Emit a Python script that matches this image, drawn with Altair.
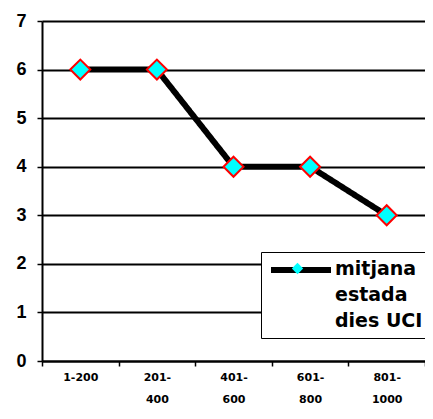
import altair as alt
import pandas as pd

categories = ["1-200", "201-400", "401-600", "601-800", "801-1000"]
values = [6, 6, 4, 4, 3]
series_name = "mitjana estada dies UCI"
y_ticks = [0, 1, 2, 3, 4, 5, 6, 7]

df = pd.DataFrame({
    "rang": categories,
    "dies": values,
    "serie": [series_name] * len(categories),
    "serie_linia": [series_name] * len(categories),
    "serie_punt": [series_name] * len(categories),
})

x_lab = ("isValid(datum.value) ? (datum.value == '1-200' ? datum.value : "
         "[split(datum.value, '-')[0] + '-', split(datum.value, '-')[1]]) : ''")
leg_lab = "[slice(datum.label, 0, 7), slice(datum.label, 8, 14), slice(datum.label, 15)]"

x = alt.X("rang:N", sort=categories,
          scale=alt.Scale(type="band", paddingInner=0, paddingOuter=0),
          axis=alt.Axis(title=None, labelAngle=0, labelExpr=x_lab, tickBand="extent",
                        labelFont="DejaVu Sans", labelFontSize=11, labelFontWeight="bold",
                        labelColor="black", labelPadding=5, labelLineHeight=22,
                        tickSize=5, tickWidth=1.5,
                        tickColor="black", domainColor="black", domainWidth=2,
                        labelBaseline="top", grid=False))
y = alt.Y("dies:Q", scale=alt.Scale(domain=[0, 7], nice=False, zero=True),
          axis=alt.Axis(title=None, values=y_ticks, labelFont="Liberation Sans",
                        labelFontSize=18, labelFontWeight="bold", labelColor="black",
                        labelPadding=11, tickSize=5, tickWidth=1.5, tickColor="black",
                        domainColor="black", domainWidth=2, grid=True,
                        gridColor="black", gridWidth=2, gridOpacity=1))

line = alt.Chart(df).mark_line(strokeWidth=6).encode(
    x=x, y=y,
    color=alt.Color("serie:N", scale=alt.Scale(range=["black"]),
                    legend=alt.Legend(orient="none", legendX=219, legendY=231, title=None,
                                      strokeColor="black", fillColor="white", padding=7,
                                      symbolType="circle", symbolSize=1,
                                      symbolOpacity=0,
                                      labelFont="DejaVu Sans", labelFontSize=19,
                                      labelFontWeight="bold", labelColor="black",
                                      labelLimit=400, labelExpr=leg_lab,
                                      labelBaseline="middle", labelOffset=48, zindex=1)),
    strokeDash=alt.StrokeDash("serie_linia:N", scale=alt.Scale(range=[[1, 0]]),
                              legend=alt.Legend(orient="none", legendX=226, legendY=216,
                                                title=None, padding=0, symbolType="stroke",
                                                symbolSize=3600, symbolStrokeWidth=6,
                                                symbolStrokeColor="black",
                                                symbolDash=[1, 0], labelExpr="''",
                                                zindex=2)),
)

points = alt.Chart(df).mark_point(filled=True, fill="#00FFFF", stroke="red",
                                  strokeWidth=2, size=400, opacity=1).encode(
    x=x, y=y,
    shape=alt.Shape("serie_punt:N", scale=alt.Scale(range=["diamond"]),
                    legend=alt.Legend(orient="none", legendX=249, legendY=241, title=None,
                                      padding=0, symbolType="diamond", symbolSize=130,
                                      symbolFillColor="#00FFFF", symbolStrokeColor="red",
                                      symbolStrokeWidth=1.5, labelExpr="''", zindex=3)),
)

chart = (line + points).properties(
    width=383, height=340,
    autosize=alt.AutoSizeParams(type="none"),
    padding={"left": 34, "top": 13, "right": 0, "bottom": 45},
).configure_view(strokeWidth=0).configure(style={"guide-label": {"lineHeight": 26}})

chart.save("out.html", embed_options={"renderer": "svg", "actions": False})
